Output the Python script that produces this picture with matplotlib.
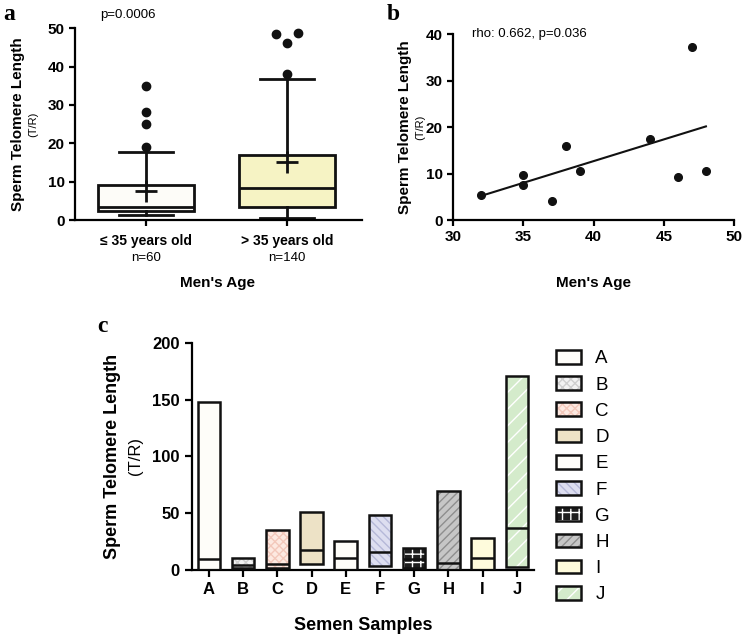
import numpy as np
import matplotlib
matplotlib.use('Agg')
import matplotlib.pyplot as plt
from matplotlib.patches import Patch
from matplotlib.legend_handler import HandlerTuple

plt.rcParams['font.family'] = ['Liberation Sans', 'DejaVu Sans']

# ----- Panel a : telomere length by age group (box plot)
age_groups = ['\u2264 35 years old', '> 35 years old']
group_n = ['n=60', 'n=140']
box_q1 = [2.3, 3.5]
box_med = [3.4, 8.4]
box_q3 = [9.0, 17.0]
whisk_lo = [1.3, 0.4]
whisk_hi = [17.7, 36.8]
box_mean = [7.6, 15.0]
outliers = [[35.0, 28.2, 25.0, 19.1], [48.5, 48.8, 46.1, 38.2]]
outlier_jitter = [[0, 0, 0, 0], [-0.08, 0.08, 0, 0]]
box_colors = ['#fdfcf8', '#f6f3c4']

# ----- Panel b : telomere length vs age (scatter)
ages = [32, 35, 35, 37, 38, 39, 44, 46, 47, 48]
stl = [5.4, 9.7, 7.5, 4.2, 15.9, 10.6, 17.4, 9.2, 37.3, 10.6]

# ----- Panel c : range per semen sample (floating bars)
samples = ['A', 'B', 'C', 'D', 'E', 'F', 'G', 'H', 'I', 'J']
stl_min = [0, 2, 2, 5.3, 0, 3.5, 1.5, 0, 0, 3]
stl_med = [10.0, 4.5, 5.0, 17.6, 10.8, 15.6, 10.0, 6.5, 10.3, 36.7]
stl_max = [147.5, 10.8, 35.0, 51.0, 25.2, 48.0, 19.6, 69.5, 27.9, 170.6]
fill_colors = ['#fefdf9', '#f2f2f2', '#fde9e1', '#ede2c6', '#fefdf9',
               '#dddef0', '#1e1e1e', '#c6c6c6', '#fefbdc', '#d4ebcb']
hatch_colors = ['#fefdf9', '#cfcfcf', '#f3c8bb', '#ede2c6', '#fefdf9',
                '#b5b8d8', '#ffffff', '#8e8e8e', '#fefbdc', '#ffffff']
hatches = [None, 'xxxx', 'xxxx', None, None, '\\\\\\\\', '++', '////', None, '//']

W, H = 742, 637


def fx(x):
    return x / W


def fy(y):
    return 1 - y / H


def style_axes(ax, fs):
    for s in ['top', 'right']:
        ax.spines[s].set_visible(False)
    for s in ['left', 'bottom']:
        ax.spines[s].set_linewidth(1.6)
    ax.tick_params(width=1.6, length=4, labelsize=fs)
    for lab in ax.get_xticklabels() + ax.get_yticklabels():
        lab.set_fontweight('bold')


fig = plt.figure(figsize=(W / 100, H / 100), dpi=100)

# ----- Panel a
ax_a = fig.add_axes([fx(75), fy(220), fx(362) - fx(75), fy(28.3) - fy(220)])
stats = []
for i in range(2):
    stats.append(dict(med=box_med[i], q1=box_q1[i], q3=box_q3[i],
                      whislo=whisk_lo[i], whishi=whisk_hi[i],
                      mean=box_mean[i], fliers=[]))
bp = ax_a.bxp(stats, positions=[1, 2], widths=0.68, patch_artist=True,
              showmeans=True, showfliers=False, capwidths=0.38,
              boxprops=dict(linewidth=2, edgecolor='#111111'),
              medianprops=dict(color='#111111', linewidth=2),
              whiskerprops=dict(color='#111111', linewidth=2),
              capprops=dict(color='#111111', linewidth=2),
              meanprops=dict(marker='+', markersize=16, markeredgecolor='#111111',
                             markeredgewidth=2))
for patch, c in zip(bp['boxes'], box_colors):
    patch.set_facecolor(c)
for i in range(2):
    xs = np.full(len(outliers[i]), i + 1.0) + np.array(outlier_jitter[i])
    ax_a.plot(xs, outliers[i], 'o', color='#111111', ms=6, clip_on=False, zorder=5)
ax_a.set_xlim(0.5, 2.53)
ax_a.set_ylim(0, 50)
ax_a.set_yticks([0, 10, 20, 30, 40, 50])
ax_a.set_xticks([1, 2])
ax_a.set_xticklabels(age_groups)
style_axes(ax_a, 10)
ax_a.tick_params(axis='y', labelsize=11)
ax_a.tick_params(axis='x', pad=6)
for i in range(2):
    ax_a.text(i + 1, -9.9, group_n[i], ha='center', va='center', fontsize=9.5)
fig.text(fx(218), fy(283), "Men's Age", ha='center', va='center', fontsize=11, fontweight='bold')
fig.text(fx(18), fy(124), 'Sperm Telomere Length', rotation=90, ha='center', va='center',
         fontsize=11, fontweight='bold')
fig.text(fx(33), fy(124), '(T/R)', rotation=90, ha='center', va='center', fontsize=8)
fig.text(fx(100), fy(15), 'p=0.0006', ha='left', va='center', fontsize=9.5)
fig.text(fx(3), fy(15), 'a', ha='left', va='center', fontsize=17, fontweight='bold',
         family='Liberation Serif')

# ----- Panel b
ax_b = fig.add_axes([fx(453.3), fy(220), fx(734) - fx(453.3), fy(34.3) - fy(220)])
ax_b.plot(ages, stl, 'o', color='#111111', ms=5.5, clip_on=False, zorder=5)
slope, icpt = np.polyfit(ages, stl, 1)
xfit = np.array([min(ages), max(ages)])
ax_b.plot(xfit, slope * xfit + icpt, color='#111111', lw=1.5)
ax_b.set_xlim(30, 50)
ax_b.set_ylim(0, 40)
ax_b.set_xticks([30, 35, 40, 45, 50])
ax_b.set_yticks([0, 10, 20, 30, 40])
style_axes(ax_b, 11)
fig.text(fx(593), fy(283), "Men's Age", ha='center', va='center', fontsize=11, fontweight='bold')
fig.text(fx(405), fy(127), 'Sperm Telomere Length', rotation=90, ha='center', va='center',
         fontsize=11, fontweight='bold')
fig.text(fx(420), fy(127), '(T/R)', rotation=90, ha='center', va='center', fontsize=8)
fig.text(fx(472), fy(34.3), 'rho: 0.662, p=0.036', ha='left', va='center', fontsize=9.5)
fig.text(fx(387), fy(15), 'b', ha='left', va='center', fontsize=17, fontweight='bold',
         family='Liberation Serif')

# ----- Panel c
ax_c = fig.add_axes([fx(191.7), fy(570), fx(534) - fx(191.7), fy(342.7) - fy(570)])
xpos = np.arange(len(samples))
bw = 0.66
heights = np.array(stl_max) - np.array(stl_min)
handles = []
for i in range(len(samples)):
    ax_c.bar(xpos[i], heights[i], bottom=stl_min[i], width=bw, color=fill_colors[i],
             edgecolor=hatch_colors[i], hatch=hatches[i], linewidth=0, zorder=2)
    ax_c.bar(xpos[i], heights[i], bottom=stl_min[i], width=bw, color='none',
             edgecolor='#111111', linewidth=1.8, zorder=3)
    handles.append((Patch(facecolor=fill_colors[i], edgecolor=hatch_colors[i],
                          hatch=hatches[i], linewidth=0),
                    Patch(facecolor='none', edgecolor='#111111', linewidth=1.8)))
ax_c.hlines(stl_med, xpos - bw / 2, xpos + bw / 2, color='#111111', lw=1.8, zorder=4)
ax_c.set_xlim(-0.5, 9.5)
ax_c.set_ylim(0, 200)
ax_c.set_yticks([0, 50, 100, 150, 200])
ax_c.set_xticks(xpos)
ax_c.set_xticklabels(samples)
style_axes(ax_c, 12)
ax_c.tick_params(length=5)
fig.text(fx(363), fy(625), 'Semen Samples', ha='center', va='center', fontsize=13, fontweight='bold')
fig.text(fx(113), fy(456), 'Sperm Telomere Length', rotation=90, ha='center', va='center',
         fontsize=13, fontweight='bold')
fig.text(fx(135), fy(456), '(T/R)', rotation=90, ha='center', va='center', fontsize=12)
fig.text(fx(97), fy(327), 'c', ha='left', va='center', fontsize=17, fontweight='bold',
         family='Liberation Serif')
ax_c.legend(handles, samples, handler_map={tuple: HandlerTuple(ndivide=1)},
            loc='upper left', bbox_to_anchor=(fx(556), fy(350)), bbox_transform=fig.transFigure,
            frameon=False, fontsize=13.5, handlelength=1.35, handleheight=0.75,
            handletextpad=0.75, labelspacing=0.47, borderpad=0, borderaxespad=0)

fig.savefig('out.png', dpi=100)
